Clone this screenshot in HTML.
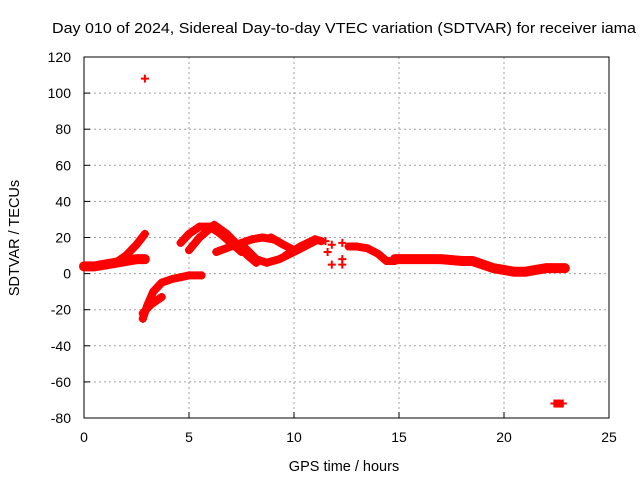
<!DOCTYPE html>
<html><head><meta charset="utf-8"><style>
html,body{margin:0;padding:0;background:#fff;}
svg{display:block;font-family:"Liberation Sans",sans-serif;}
</style></head><body>
<svg id="chart" width="640" height="480" viewBox="0 0 640 480" xmlns="http://www.w3.org/2000/svg">
<rect width="640" height="480" fill="#fff"/>
<text x="52" y="33" font-size="14.5" textLength="584" lengthAdjust="spacingAndGlyphs">Day 010 of 2024, Sidereal Day-to-day VTEC variation (SDTVAR) for receiver iama</text>
<g id="grid"></g>
<g id="axes"></g>
<g id="marks"></g>
<text x="344" y="471" font-size="14.5" text-anchor="middle">GPS time / hours</text>
<text transform="translate(19,238) rotate(-90)" font-size="14.5" text-anchor="middle">SDTVAR / TECUs</text>
</svg>
<script>
const xTicks=[0,5,10,15,20,25];
const yTicks=[-80,-60,-40,-20,0,20,40,60,80,100,120];
const trackStart=[[0,4],[0.5,4],[1,5],[1.5,6],[2,7],[2.5,8],[2.9,8]];
const trackRise=[[1.5,6],[2,10],[2.5,16],[2.9,22]];
const trackNegA=[[2.8,-25],[3,-18],[3.3,-10],[3.7,-5],[4.2,-3],[5,-1],[5.6,-1]];
const trackNegB=[[2.8,-22],[3.2,-17],[3.7,-13]];
const trackArcA=[[4.6,17],[5,22],[5.5,26],[6,26],[6.5,22],[7,17],[7.5,12]];
const trackArcB=[[5,13],[5.5,20],[6.2,27],[6.8,22],[7.3,16],[7.8,10],[8.2,6]];
const trackBandA=[[6.3,12],[7,15],[7.5,17],[8,19],[8.5,20],[9,19]];
const trackBowl=[[7.6,15],[8.2,8],[8.7,6],[9.3,8],[10,12],[10.5,15],[11,18]];
const trackCross=[[8.9,20],[9.5,16],[10,13]];
const trackBandB=[[9.6,10],[10.3,15],[11,19],[11.3,18]];
const scatterPts=[[11.5,18],[11.6,12],[11.8,16],[11.8,5],[12.3,17],[12.3,5],[12.3,8]];
const trackMid=[[12.6,15],[13,15],[13.5,14],[14,11],[14.4,7],[14.8,7]];
const trackLate=[[14.8,8],[15.5,8],[16,8],[17,8],[18,7],[18.5,7],[19,5],[19.5,3],[20,2],[20.5,1],[21,1],[21.5,2],[22,3],[22.5,3],[22.9,3]];
const outlierHigh=[[2.9,108]];
const outlierLow=[[22.4,-72],[22.6,-72],[22.8,-72]];
const tracks=[trackStart,trackRise,trackNegA,trackNegB,trackArcA,trackArcB,trackBandA,trackBowl,trackCross,trackBandB,trackMid,trackLate];
const singles=[scatterPts,outlierHigh,outlierLow];

const L=84,R=609,T=57,B=418;
const xs=v=>L+(v-0)/(25-0)*(R-L);
const ys=v=>B-(v+80)/200*(B-T);
const NS="http://www.w3.org/2000/svg";
function mk(tag,parent,attrs){const e=document.createElementNS(NS,tag);for(const k in attrs)e.setAttribute(k,attrs[k]);parent.appendChild(e);return e;}
const grid=document.getElementById('grid'),axes=document.getElementById('axes'),marks=document.getElementById('marks');
xTicks.forEach(t=>{
  const x=xs(t);
  if(t>0&&t<25){const g=mk('line',grid,{x1:x,x2:x,y1:T,y2:B,stroke:'#a0a0a0','stroke-dasharray':'2,3','stroke-width':1});
  
  }
  const tk=mk('line',axes,{x1:x,x2:x,y1:B,y2:B-6,stroke:'#000'});
  
  
  const lb=mk('text',axes,{x:x,y:B+24,'font-size':14,'text-anchor':'middle'});
  lb.textContent=t;
  
  
});
yTicks.forEach(t=>{
  const y=ys(t);
  if(t>-80&&t<120){const g=mk('line',grid,{x1:L,x2:R,y1:y,y2:y,stroke:'#a0a0a0','stroke-dasharray':'2,3','stroke-width':1});
  
  }
  const tk=mk('line',axes,{x1:L,x2:L+6,y1:y,y2:y,stroke:'#000'});
  
  
  const lb=mk('text',axes,{x:L-13,y:y+5,'font-size':14,'text-anchor':'end'});
  lb.textContent=t;
  
  
});
const box=mk('rect',axes,{x:L,y:T,width:R-L,height:B-T,fill:'none',stroke:'#000','stroke-width':1});


function plus(x,y){
  const p=mk('path',marks,{d:`M${x-4},${y}H${x+4}M${x},${y-4}V${y+4}`,stroke:'#f00','stroke-width':2,fill:'none'});
  
  
}
tracks.forEach(tr=>{
  const w=(tr===trackLate||tr===trackStart)?10:8;
  const pl=mk('polyline',marks,{points:tr.map(p=>xs(p[0])+','+ys(p[1])).join(' '),fill:'none',stroke:'#f00','stroke-width':w,'stroke-linejoin':'round','stroke-linecap':'round'});
  
  
  tr.forEach(p=>plus(xs(p[0]),ys(p[1])));
});
singles.forEach(s=>s.forEach(p=>plus(xs(p[0]),ys(p[1]))));
const lowBar=mk('polyline',marks,{points:outlierLow.map(p=>xs(p[0])+','+ys(p[1])).join(' '),fill:'none',stroke:'#f00','stroke-width':8});


</script>
</body></html>
